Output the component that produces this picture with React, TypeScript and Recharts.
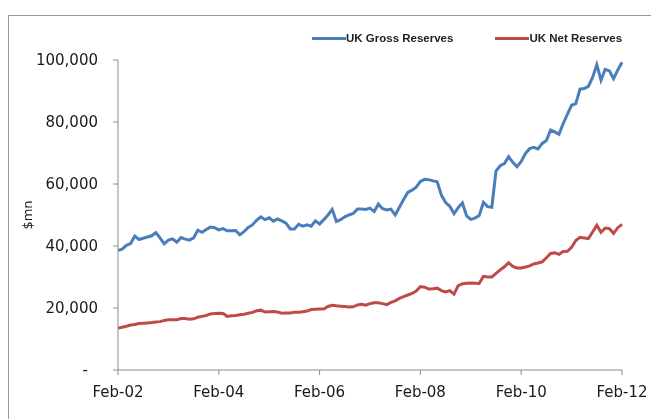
import { Line, LineChart, XAxis, YAxis } from "recharts";

const monthNames = ["Jan", "Feb", "Mar", "Apr", "May", "Jun", "Jul", "Aug", "Sep", "Oct", "Nov", "Dec"];

// monthly, Feb-02 .. Feb-12, $mn
const grossReserves = [
  38600, 39000, 40200, 40800, 43200, 42100, 42500, 42900, 43300, 44300, 42600, 40700,
  41900, 42300, 41200, 42700, 42200, 41900, 42600, 45100, 44400, 45300, 46100, 45900,
  45200, 45600, 44900, 44900, 45000, 43600, 44600, 46000, 46800, 48300, 49400, 48500,
  49100, 48000, 48700, 48100, 47400, 45500, 45500, 47000, 46400, 46800, 46400, 48100,
  47100, 48500, 50000, 51800, 47900, 48500, 49400, 50000, 50500, 51900, 51900, 51800,
  52200, 51100, 53500, 52000, 51600, 51900, 50000, 52500, 55000, 57300, 58000, 59000,
  60800, 61500, 61400, 61000, 60700, 56400, 54000, 52800, 50400, 52400, 53900, 49700,
  48600, 49000, 49800, 54100, 52700, 52500, 64200, 65900, 66600, 68800, 67000, 65600,
  67300, 69800, 71400, 71800, 71300, 73100, 74000, 77400, 76800, 76000, 79500, 82500,
  85400, 85900, 90600, 90800, 91500, 94400, 98500, 93500, 97000, 96500, 94000, 96800,
  99300,
];

const netReserves = [
  13500, 13800, 14100, 14500, 14700, 15000, 15100, 15200, 15300, 15500, 15600, 16000,
  16200, 16200, 16200, 16600, 16600, 16400, 16500, 17000, 17300, 17600, 18100, 18200,
  18300, 18200, 17300, 17500, 17600, 17800, 18000, 18300, 18600, 19100, 19300, 18700,
  18800, 18900, 18700, 18300, 18400, 18400, 18600, 18600, 18800, 19000, 19500, 19600,
  19700, 19700, 20500, 20900, 20700, 20600, 20500, 20300, 20400, 21000, 21200, 20900,
  21400, 21700, 21700, 21400, 21100, 21800, 22300, 23100, 23700, 24200, 24700, 25500,
  26900, 26700, 26100, 26200, 26400, 25600, 25200, 25600, 24500, 27200, 27800, 28000,
  28100, 28000, 27900, 30200, 30000, 30000, 31200, 32300, 33300, 34600, 33400, 32900,
  32900, 33200, 33600, 34200, 34500, 34900, 36200, 37600, 37800, 37300, 38200, 38300,
  39600, 41800, 42800, 42600, 42400, 44500, 46700, 44400, 45800, 45600, 44100, 45900,
  47000,
];

const yTicks = [0, 20000, 40000, 60000, 80000, 100000];

const series = [
  { key: "gross", name: "UK Gross Reserves", color: "#4a7ebb" },
  { key: "net", name: "UK Net Reserves", color: "#be4b48" },
];

const data = grossReserves.map((gross, i) => {
  const m = (1 + i) % 12;
  const year = 2002 + Math.floor((1 + i) / 12);
  return {
    month: `${monthNames[m]}-${String(year % 100).padStart(2, "0")}`,
    gross,
    net: netReserves[i],
  };
});

const axisColor = "#8c8c8c";
const tickFont = { fill: "#1a1a1a", fontSize: 15, fontFamily: "DejaVu Sans" };

function YTick({ x, y, payload }: any) {
  const v = payload.value as number;
  const label = v === 0 ? "-" : v.toLocaleString("en-US");
  return (
    <text x={v === 0 ? x - 23 : x - 13} y={y} dy="0.355em" textAnchor="end" {...tickFont}>
      {label}
    </text>
  );
}

export default function App() {
  // fixed so the 643px-wide box does not make the page scroll
  return (
    <div style={{ position: "fixed", left: 8, top: 8, width: 643, height: 411 }}>
      <div
        style={{
          position: "absolute",
          left: 0,
          top: 7,
          width: 643,
          height: 404,
          borderLeft: "1px solid #999",
          borderTop: "1px solid #999",
          boxSizing: "border-box",
        }}
      />
      <div
        style={{
          position: "absolute",
          left: 304,
          top: 24,
          display: "flex",
          whiteSpace: "nowrap",
          fontFamily: "Liberation Sans",
          fontWeight: 700,
          fontSize: 11.5,
          color: "#222",
        }}
      >
        {series.map((s) => (
          <div key={s.key} style={{ display: "flex", alignItems: "center", marginRight: 42 }}>
            <span style={{ display: "inline-block", width: 34, height: 3, background: s.color }} />
            <span>{s.name}</span>
          </div>
        ))}
      </div>
      <LineChart width={643} height={411} data={data} margin={{ top: 52, right: 29, left: 0, bottom: 0 }} style={{ position: "absolute", left: 0, top: 0 }}>
        <XAxis
          dataKey="month"
          interval={23}
          height={49}
          tick={tickFont}
          tickSize={5}
          tickMargin={11}
          stroke={axisColor}
        />
        <YAxis
          domain={[0, 100000]}
          ticks={yTicks}
          width={110}
          tick={<YTick />}
          tickSize={5}
          stroke={axisColor}
          label={{ value: "$mn", angle: -90, position: "insideLeft", offset: 19, style: { fill: "#1a1a1a", fontSize: 13, fontFamily: "DejaVu Sans", textAnchor: "middle" } }}
        />
        {series.map((s) => (
          <Line
            key={s.key}
            type="linear"
            dataKey={s.key}
            name={s.name}
            stroke={s.color}
            strokeWidth={3}
            dot={false}
            isAnimationActive={false}
          />
        ))}
      </LineChart>
    </div>
  );
}
